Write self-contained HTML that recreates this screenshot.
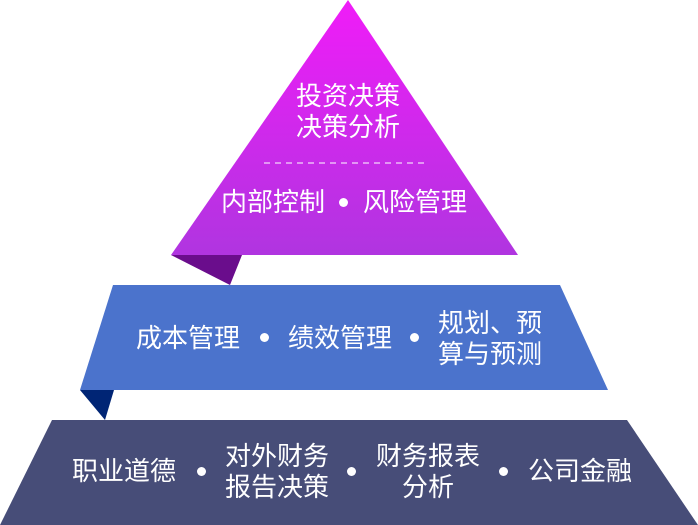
<!DOCTYPE html>
<html><head><meta charset="utf-8"><style>
body{margin:0;width:698px;height:525px;background:#fff;overflow:hidden;position:relative;font-family:"Liberation Sans","Noto Sans CJK SC",sans-serif;color:#fff}
.t{position:absolute;font-size:26px;line-height:31px;white-space:nowrap;text-align:center}
.d{position:absolute;width:9px;height:9px;border-radius:50%;background:#fff}
</style></head><body>
<svg width="698" height="525" style="position:absolute;left:0;top:0">
<defs><linearGradient id="g" x1="0" y1="0" x2="0" y2="1"><stop offset="0" stop-color="#f01cf8"/><stop offset="1" stop-color="#b035e0"/></linearGradient></defs>
<polygon points="348,0 518,255 171,255" fill="url(#g)"/>
<polygon points="171,255 242,255 230,285" fill="#6a0d8c"/>
<polygon points="113,285 560,285 608,390 80,390" fill="#4b73cc"/>
<polygon points="80,390 114,390 105,420" fill="#002575"/>
<polygon points="52,420 627,420 698,525 0,525" fill="#474d78"/>
<line x1="264" y1="163" x2="424" y2="163" stroke="#fff" stroke-width="1" stroke-dasharray="6,5"/>
</svg>
<div class="t" style="left:296px;top:81px">投资决策<br>决策分析</div>
<div class="t" style="left:221px;top:187px">内部控制</div>
<div class="d" style="left:339px;top:198px"></div>
<div class="t" style="left:363px;top:187px">风险管理</div>
<div class="t" style="left:136px;top:323px">成本管理</div>
<div class="d" style="left:260px;top:333px"></div>
<div class="t" style="left:288px;top:323px">绩效管理</div>
<div class="d" style="left:410px;top:333px"></div>
<div class="t" style="left:438px;top:308px">规划、预<br>算与预测</div>
<div class="t" style="left:72px;top:456px">职业道德</div>
<div class="d" style="left:197px;top:467px"></div>
<div class="t" style="left:225px;top:441px">对外财务<br>报告决策</div>
<div class="d" style="left:347px;top:467px"></div>
<div class="t" style="left:376px;top:441px">财务报表<br>分析</div>
<div class="d" style="left:499px;top:467px"></div>
<div class="t" style="left:528px;top:456px">公司金融</div>
</body></html>
